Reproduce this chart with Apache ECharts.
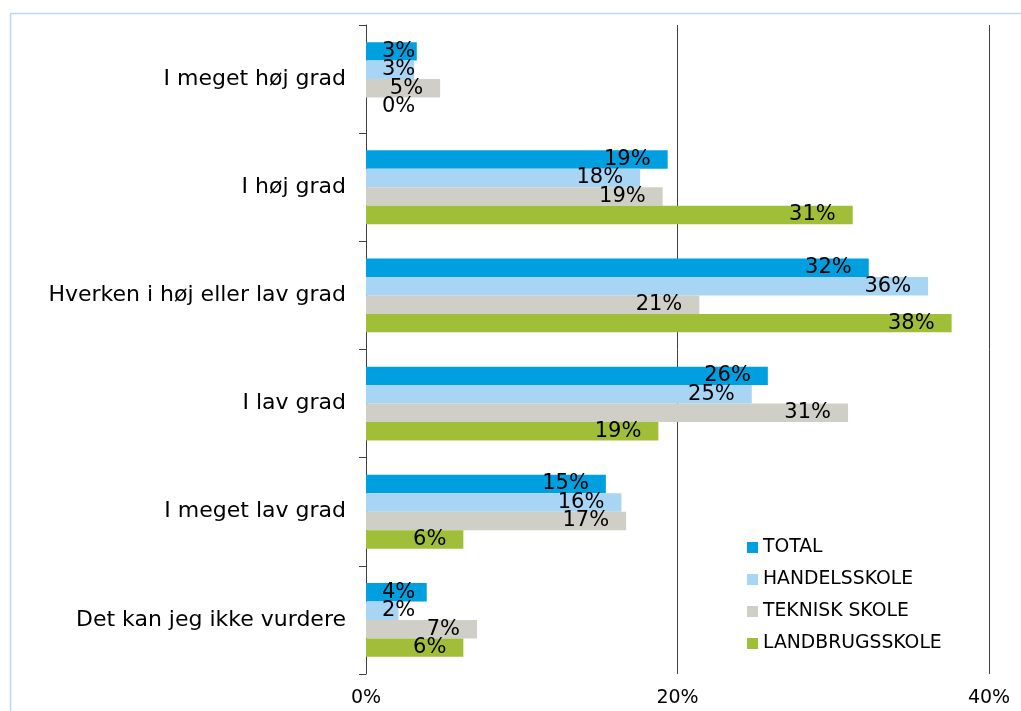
<!DOCTYPE html>
<html>
<head>
<meta charset="utf-8">
<script src="https://cdn.jsdelivr.net/npm/echarts@6/dist/echarts.min.js"></script>
<style>
html, body { margin: 0; padding: 0; background: #fff; }
#chart { width: 1021px; height: 711px; }
</style>
</head>
<body>
<div id="chart"></div>
<script>
var categories = ['I meget høj grad', 'I høj grad', 'Hverken i høj eller lav grad', 'I lav grad', 'I meget lav grad', 'Det kan jeg ikke vurdere'];
var seriesNames = ['TOTAL', 'HANDELSSKOLE', 'TEKNISK SKOLE', 'LANDBRUGSSKOLE'];
var total = [3.26, 19.37, 32.28, 25.8, 15.4, 3.9];
var handelsskole = [3.09, 17.6, 36.09, 24.77, 16.4, 2.08];
var tekniskSkole = [4.76, 19.05, 21.4, 30.95, 16.7, 7.13];
var landbrugsskole = [0, 31.25, 37.6, 18.77, 6.25, 6.25];
var xTicks = [0, 20, 40];
var colors = ['#009FE0', '#A9D5F4', '#D0CFC7', '#A0BE37'];

var allData = [total, handelsskole, tekniskSkole, landbrugsskole];

// labels sit inside the bar end; short bars get them pinned near the axis
function toItems(arr) {
    return arr.map(function (v) {
        if (v < 4.25) {
            return {value: v, label: {position: 'insideLeft', distance: 16}};
        }
        return v;
    });
}

var myChart = echarts.init(document.getElementById('chart'));
var option = {
    animation: false,
    color: colors,
    textStyle: {fontFamily: 'DejaVu Sans'},
    graphic: [{
        type: 'rect',
        shape: {x: 10.5, y: 13.5, width: 1100, height: 800},
        style: {fill: null, stroke: '#BDD7EE', lineWidth: 1.5},
        silent: true
    }],
    legend: {
        orient: 'vertical',
        left: 742,
        top: 533,
        itemWidth: 11,
        itemHeight: 11,
        itemGap: 13,
        icon: 'rect',
        data: seriesNames,
        textStyle: {fontSize: 18.8, color: '#000', lineHeight: 19}
    },
    grid: {left: 366, right: 32, top: 25, bottom: 37, containLabel: false},
    xAxis: {
        type: 'value',
        min: 0,
        max: 40,
        interval: 20,
        axisLine: {show: false},
        axisTick: {show: false},
        splitLine: {show: true, lineStyle: {color: '#404040', width: 1}},
        axisLabel: {
            fontSize: 19,
            color: '#000',
            margin: 15,
            formatter: function (v) { return xTicks.indexOf(v) >= 0 ? v + '%' : ''; }
        }
    },
    yAxis: {
        type: 'category',
        inverse: true,
        data: categories,
        axisLine: {show: true, lineStyle: {color: '#404040', width: 1}},
        axisTick: {show: true, length: 7, lineStyle: {color: '#404040'}},
        axisLabel: {fontSize: 22, color: '#000', margin: 20}
    },
    series: seriesNames.map(function (name, i) {
        return {
            name: name,
            type: 'bar',
            data: toItems(allData[i]),
            barGap: '0%',
            barCategoryGap: '31.7%',
            label: {
                show: true,
                position: 'insideRight',
                distance: 17,
                fontSize: 21,
                color: '#000',
                formatter: function (p) { return Math.round(p.value) + '%'; }
            }
        };
    })
};
myChart.setOption(option);
window.addEventListener('resize', function () {
    myChart.resize();
});
</script>
</body>
</html>
